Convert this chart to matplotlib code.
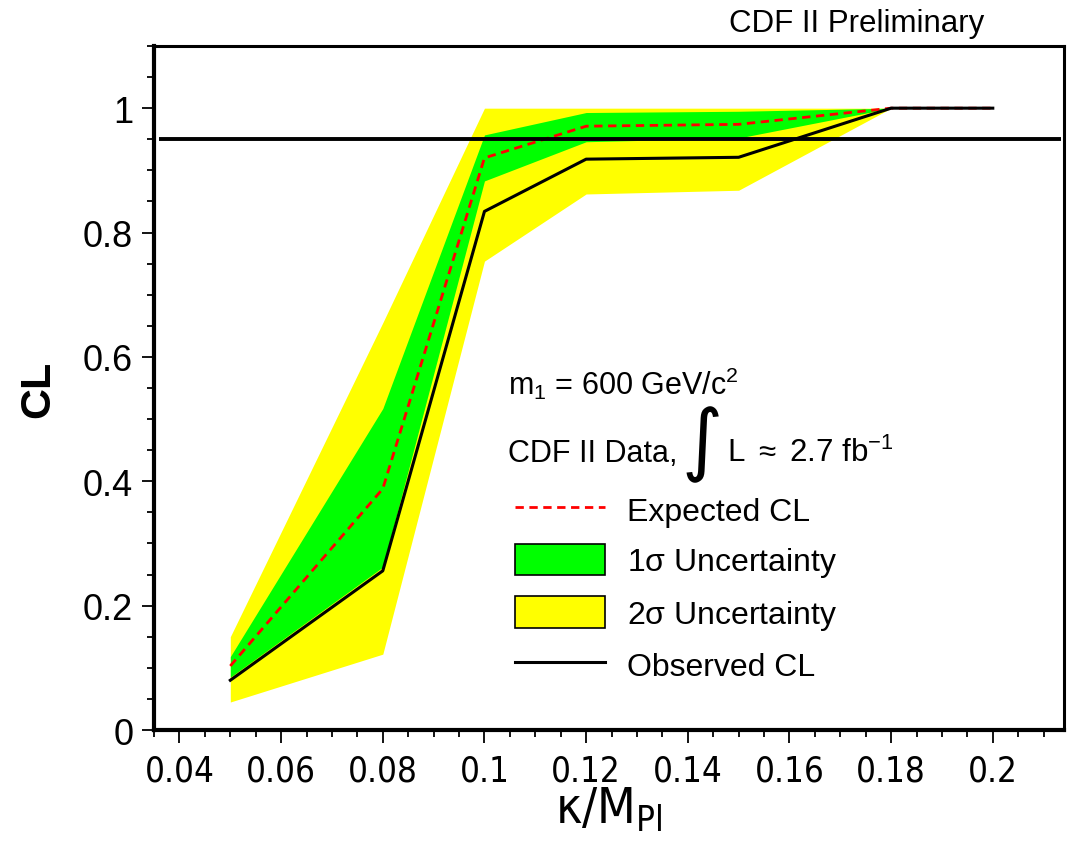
import numpy as np
import matplotlib
matplotlib.use('Agg')
import matplotlib.pyplot as plt
from matplotlib import font_manager
from matplotlib.lines import Line2D
from matplotlib.patches import Patch
from matplotlib.ticker import MultipleLocator, FuncFormatter

plt.rcParams['font.family'] = ['Liberation Sans', 'DejaVu Sans']
plt.rcParams['mathtext.fontset'] = 'custom'
plt.rcParams['mathtext.rm'] = 'Liberation Sans'
plt.rcParams['mathtext.it'] = 'Liberation Sans:italic'
plt.rcParams['mathtext.bf'] = 'Liberation Sans:bold'
plt.rcParams['mathtext.default'] = 'regular'

# kappa/M_Pl scan points, m1 = 600 GeV
kappa = [0.05, 0.08, 0.10, 0.12, 0.15, 0.18, 0.20]
observed = [0.080, 0.256, 0.834, 0.918, 0.921, 1.0, 1.0]
expected = [0.103, 0.388, 0.920, 0.971, 0.974, 1.0, 1.0]
one_sig_lo = [0.085, 0.262, 0.883, 0.946, 0.952, 1.0, 1.0]
one_sig_hi = [0.118, 0.517, 0.957, 0.993, 0.995, 1.0, 1.0]
two_sig_lo = [0.045, 0.122, 0.754, 0.862, 0.868, 1.0, 1.0]
two_sig_hi = [0.150, 0.655, 1.0, 1.0, 1.0, 1.0, 1.0]
cl_limit = 0.95

# narrow face for the x axis if one is around
names = {(f.name, f.stretch) for f in font_manager.fontManager.ttflist}
if any(n == 'Liberation Sans Narrow' for n, s in names):
    narrow = dict(family='Liberation Sans Narrow')
elif ('DejaVu Sans', 'condensed') in names:
    narrow = dict(family='DejaVu Sans', stretch='condensed')
else:
    narrow = dict(family='Liberation Sans')

fig = plt.figure(figsize=(10.72, 8.45), dpi=100)
ax = fig.add_axes([0.1437, 0.1349, 0.8488, 0.8095])

ax.fill_between(kappa, two_sig_lo, two_sig_hi, color='#ffff00', lw=0, zorder=1)
ax.fill_between(kappa, one_sig_lo, one_sig_hi, color='#00ff00', lw=0, zorder=2)
ax.plot(kappa, expected, color='#ff0000', lw=2.0, ls=(0, (3, 2)), zorder=3)
ax.plot(kappa, observed, color='black', lw=2.2, zorder=4)
ax.hlines(cl_limit, 0.036, 0.2135, color='black', lw=2.8, zorder=5)

ax.set_xlim(0.035, 0.214)
ax.set_ylim(0, 1.1)

ax.xaxis.set_major_locator(MultipleLocator(0.02))
ax.xaxis.set_minor_locator(MultipleLocator(0.005))
ax.yaxis.set_major_locator(MultipleLocator(0.2))
ax.yaxis.set_minor_locator(MultipleLocator(0.05))
fmt = FuncFormatter(lambda v, p: '{:g}'.format(round(v, 3)))
ax.xaxis.set_major_formatter(fmt)
ax.yaxis.set_major_formatter(fmt)

ax.tick_params(which='both', direction='out', top=False, right=False, width=1.3)
ax.tick_params(which='major', length=9)
ax.tick_params(which='minor', length=5)
ax.tick_params(axis='y', labelsize=26, pad=6)
ax.tick_params(axis='x', labelsize=25, pad=8)
for lab in ax.get_xticklabels():
    lab.set(**narrow)

for side in ['left', 'bottom']:
    ax.spines[side].set_linewidth(3.0)
for side in ['top', 'right']:
    ax.spines[side].set_linewidth(2.2)

ax.set_ylabel('CL', fontsize=31, fontweight='bold', labelpad=18)
ax.set_xlabel('\u03ba/M$_{Pl}$', fontsize=36, labelpad=-2, **narrow)

fig.text(0.918, 0.962, 'CDF II Preliminary', fontsize=22.5, ha='right', va='baseline')

tx, ty1, ty2 = 0.389, 0.491, 0.393
ax.text(tx, ty1, r'm$_1$ = 600 GeV/c$^2$', transform=ax.transAxes,
        fontsize=22, va='baseline')
t1 = ax.text(tx, ty2, 'CDF II Data,', transform=ax.transAxes,
             fontsize=22, va='baseline')
t2 = ax.annotate('\u222b', xy=(1, ty2), xycoords=(t1, 'axes fraction'),
                 xytext=(3, -3), textcoords='offset points',
                 fontsize=57, family='DejaVu Sans', va='baseline', ha='left')
ax.annotate(r'L $\approx$ 2.7 fb$^{-1}$', xy=(1, ty2), xycoords=(t2, 'axes fraction'),
            xytext=(3, 0), textcoords='offset points',
            fontsize=22.5, va='baseline', ha='left')

handles = [
    Line2D([], [], color='#ff0000', lw=2.0, ls=(0, (3, 2))),
    Patch(facecolor='#00ff00', edgecolor='black', lw=1.2),
    Patch(facecolor='#ffff00', edgecolor='black', lw=1.2),
    Line2D([], [], color='black', lw=2.2),
]
labels = ['Expected CL', r'1$\sigma$ Uncertainty', r'2$\sigma$ Uncertainty', 'Observed CL']
ax.legend(handles, labels, loc='upper left', bbox_to_anchor=(0.397, 0.346),
          frameon=False, fontsize=23, handlelength=2.8, handleheight=1.15,
          handletextpad=0.69, labelspacing=0.52, borderaxespad=0, borderpad=0)

fig.savefig('out.png', dpi=100)
